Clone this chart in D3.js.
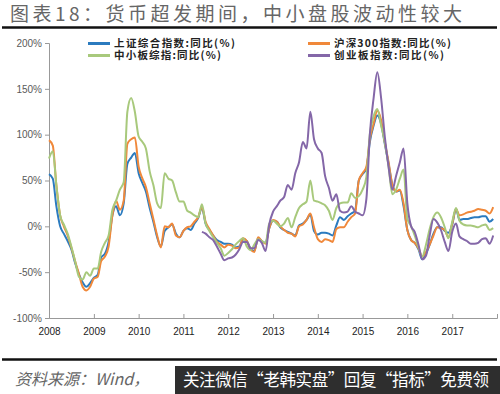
<!DOCTYPE html>
<html>
<head>
<meta charset="utf-8">
<script src="https://cdn.jsdelivr.net/npm/d3@7"></script>
<style>
  body { margin: 0; background: #fff; }
  svg { display: block; font-family: "Noto Sans CJK SC", "Noto Sans", sans-serif; }
</style>
</head>
<body>
<div id="chart"></div>
<script>
// year-on-year change (%), monthly, Jan 2008 - Dec 2017
var years = ["2008", "2009", "2010", "2011", "2012", "2013", "2014", "2015", "2016", "2017"];
var yTicks = [-100, -50, 0, 50, 100, 150, 200];

var shComp = [
  57, 52, 22, 0, -8, -16, -25, -40, -52, -61, -66, -62,
  -56, -53, -34, -30, -17, 12, 22, 12, 25, 68, 75, 80,
  58, 47, 38, 20, 5, -12, -22, -5, -1, 2, -8, -12,
  -5, -2, -4, 3, 9, 20, 3, -4, -10, -15, -17, -19,
  -19, -20, -23, -22, -14, -16, -24, -27, -13, -16, -18, -2,
  6, 5, -1, -4, -6, -8, -10, 1, 3, 7, 13, -5,
  -9, -7, -7, -8, -10, 1, 10, 7, 11, 14, 17, 50,
  57, 63, 92, 110, 121, 112, 90, 68, 45, 38, 39, 22,
  -4, -15, -18, -25, -36, -30, -20, -8, -1, -1, -5, -7,
  2, 19, 7, 8, 8, 9, 10, 10, 11, 11, 5, 8
];
var hs300 = [
  94, 88, 45, 12, 0, -10, -23, -38, -52, -66, -70, -66,
  -57, -55, -38, -33, -22, 12, 28, 18, 28, 90, 95, 97,
  65, 52, 43, 25, 8, -10, -23, 0, -1, 3, -10, -12,
  -5, -1, 0, 5, 10, 21, 5, -3, -10, -17, -20, -23,
  -20, -21, -24, -23, -13, -16, -25, -28, -12, -16, -19, -2,
  7, 5, 0, -4, -7, -8, -11, 0, 2, 7, 14, -1,
  -14, -17, -14, -15, -17, -3, -1, -1, 5, 10, 14, 50,
  58, 65, 95, 112, 126, 116, 92, 70, 45, 38, 40, 25,
  -4, -15, -18, -24, -33, -28, -20, -10, -1, -2, -4, -12,
  3, 19, 12, 13, 15, 16, 17, 19, 18, 17, 14, 21
];
var smeComp = [
  74, 82, 45, 12, 2, -8, -22, -38, -55, -58, -50, -54,
  -46, -46, -28, -18, -10, 18, 28, 40, 48, 125, 140, 125,
  98, 92, 85, 60, 45, 25, 20, 58, 52, 50, 37, 27,
  27, 17, 15, 12, 10, 24, 3, -5, -12, -18, -24, -32,
  -29, -25, -20, -16, -13, -22, -26, -20, -14, -16, -18, 3,
  6, 3, 0, 3, 9, -1, 10, 20, 24, 27, 50, 28,
  27, 25, 23, 17, 7, 20, 25, 26, 26, 36, 31, 33,
  40, 54, 100, 120, 128, 110, 92, 65, 35, 40, 52, 62,
  8, 0, -10, -23, -33, -20, -3, 10, 15, 10, -1, -13,
  5, 20, 6, 2, 1, 1, 0, -1, 1, 2, -4, -2
];
var chinext = [
  null, null, null, null, null, null, null, null, null, null, null, null,
  null, null, null, null, null, null, null, null, null, null, null, null,
  null, null, null, null, null, null, null, null, null, null, null, null,
  null, null, null, null, null, -6, -8, -12, -15, -22, -30, -37,
  -35, -34, -31, -25, -17, -17, -24, -24, -15, -18, -27, 2,
  16, 22, 28, 32, 45, 40, 58, 70, 92, 85, 125, 95,
  85, 80, 55, 42, 28, 35, 17, 15, 16, 22, 16, 14,
  12, 30, 100, 140, 168, 140, 98, 65, 40, 55, 70, 85,
  25, 0, -6, -20, -36, -32, -10, 8, 4, -4, -17, -27,
  -6, 3, -11, -14, -16, -19, -19, -18, -14, -13, -19, -10
];

var seriesNames = ["上证综合指数:同比(%)", "沪深300指数:同比(%)", "中小板综指:同比(%)", "创业板指数:同比(%)"];
var seriesColors = ["#2b7bbf", "#f0883a", "#a8c97c", "#8467a8"];
var seriesData = [shComp, hs300, smeComp, chinext];

var width = 500, height = 394;
var svg = d3.select("#chart").append("svg")
  .attr("width", width)
  .attr("height", height);

// title + rule
svg.append("text")
  .attr("x", 10).attr("y", 21)
  .attr("font-size", 19)
  .attr("fill", "#666")
  .attr("textLength", 452)
  .text("图表18：货币超发期间，中小盘股波动性较大");
svg.append("line")
  .attr("x1", 2).attr("x2", 497).attr("y1", 27.5).attr("y2", 27.5)
  .attr("stroke", "#111").attr("stroke-width", 2.5);

var start = new Date(2008, 0, 1);
var x = d3.scaleTime().domain([start, new Date(2018, 0, 1)]).range([49, 497]);
var y = d3.scaleLinear().domain([-100, 200]).range([318, 43]);

// axes
var yAxis = svg.append("g")
  .attr("transform", "translate(49,0)")
  .call(d3.axisLeft(y).tickValues(yTicks).tickSize(4).tickPadding(3)
    .tickFormat(function (d) { return d + "%"; }));
yAxis.selectAll("text").attr("font-size", 10).attr("fill", "#595959")
  .attr("font-family", "Liberation Sans, Arial, sans-serif");

var yearDates = years.map(function (yr) { return new Date(+yr, 0, 1); });
var xAxis = svg.append("g")
  .attr("transform", "translate(0,318)")
  .call(d3.axisBottom(x).tickValues(yearDates.concat([new Date(2018, 0, 1)]))
    .tickSize(-4).tickPadding(10)
    .tickFormat(function (d) { return d.getFullYear() < 2018 ? d.getFullYear() : ""; }));
xAxis.selectAll("text").attr("font-size", 10).attr("fill", "#222")
  .attr("font-family", "Liberation Sans, Arial, sans-serif");

svg.selectAll(".domain").attr("stroke", "#999");
svg.selectAll(".tick line").attr("stroke", "#999");

// lines
var line = d3.line()
  .defined(function (d) { return d != null; })
  .x(function (d, i) { return x(d3.timeMonth.offset(start, i)); })
  .y(function (d) { return y(d); })
  .curve(d3.curveMonotoneX);

svg.selectAll(".series")
  .data(seriesData)
  .enter()
  .append("path")
  .attr("class", "series")
  .attr("d", line)
  .attr("fill", "none")
  .attr("stroke", function (d, i) { return seriesColors[i]; })
  .attr("stroke-width", 2)
  .attr("stroke-linejoin", "round");

var legendPos = [[88, 43.5], [308, 43.5], [88, 55.5], [308, 55.5]];
var legendWidth = [121, 117, 107, 110];
var legend = svg.selectAll(".legend")
  .data(seriesNames)
  .enter()
  .append("g")
  .attr("class", "legend")
  .attr("transform", function (d, i) { return "translate(" + legendPos[i][0] + "," + legendPos[i][1] + ")"; });
legend.append("line")
  .attr("x1", 0).attr("x2", 22)
  .attr("stroke", function (d, i) { return seriesColors[i]; })
  .attr("stroke-width", 3);
legend.append("text")
  .attr("x", 26).attr("y", 3.8)
  .attr("font-size", 10.5)
  .attr("font-weight", "bold")
  .attr("fill", "#222")
  .attr("textLength", function (d, i) { return legendWidth[i]; })
  .text(function (d) { return d; });

// footer
svg.append("line")
  .attr("x1", 2).attr("x2", 497).attr("y1", 359.5).attr("y2", 359.5)
  .attr("stroke", "#111").attr("stroke-width", 2.5);
svg.append("text")
  .attr("x", 15).attr("y", 385)
  .attr("font-size", 16)
  .attr("font-style", "italic")
  .attr("fill", "#666")
  .text("资料来源：Wind，");
svg.append("rect")
  .attr("x", 175).attr("y", 366).attr("width", 325).attr("height", 28)
  .attr("fill", "#2e2e2e");
svg.append("text")
  .attr("x", 183).attr("y", 386)
  .attr("font-size", 16.5)
  .attr("fill", "#fff")
  .attr("textLength", 306)
  .text("关注微信“老韩实盘”回复“指标”免费领");
</script>
</body>
</html>
